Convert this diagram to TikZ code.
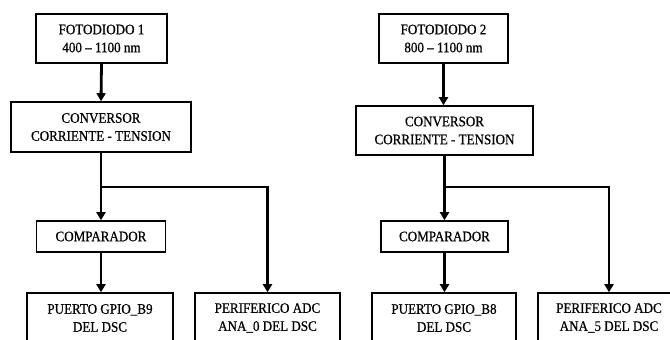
\documentclass[tikz,border=0pt]{standalone}
\usepackage{fontspec}
\setmainfont{Liberation Serif}[FakeStretch=0.9,FakeBold=0.6]
\usetikzlibrary{arrows.meta,calc}
\begin{document}
\begin{tikzpicture}[x=1pt,y=-1pt,
  blk/.style={draw,line width=1.6pt,inner sep=0pt,align=center,
    font=\fontsize{14.5}{18}\selectfont},
  arr/.style={line width=2.8pt,-{Triangle[length=8pt,width=9pt]}},
  thinl/.style={line width=1.1pt}]
\useasboundingbox (0,0) rectangle (670,340);
% left column
\node[blk,minimum width=131pt,minimum height=49pt] (F1) at (101.5,38.5) {FOTODIODO 1\\400 – 1100 nm};
\node[blk,minimum width=180pt,minimum height=50pt] (C1) at (101,127) {CONVERSOR\\CORRIENTE - TENSION};
\node[blk,minimum width=129pt,minimum height=31pt] (K1) at (101,236.5) {COMPARADOR};
\node[blk,minimum width=146pt,minimum height=50pt] (P1) at (100,318) {PUERTO GPIO\_B9\\DEL DSC};
\node[blk,minimum width=145pt,minimum height=50pt] (A1) at (267.5,318) {PERIFERICO ADC\\ANA\_0 DEL DSC};
\coordinate (J1) at (101,187);
\draw[arr] (F1.south) -- (C1.north);
\draw[arr] (C1.south) -- (K1.north);
\draw[thinl] (J1) -- (J1 -| A1.north);
\draw[arr] ($(J1 -| A1.north)+(0,-1)$) -- (A1.north);
\draw[arr] (K1.south) -- (K1.south |- P1.north);
% right column
\node[blk,minimum width=129pt,minimum height=49pt] (F2) at (443.5,38.5) {FOTODIODO 2\\800 – 1100 nm};
\node[blk,minimum width=177pt,minimum height=49pt] (C2) at (444.5,130.5) {CONVERSOR\\CORRIENTE - TENSION};
\node[blk,minimum width=127pt,minimum height=31pt] (K2) at (444.5,236.5) {COMPARADOR};
\node[blk,minimum width=144pt,minimum height=50pt] (P2) at (444,318) {PUERTO GPIO\_B8\\DEL DSC};
\node[blk,minimum width=142pt,minimum height=50pt] (A2) at (609,318) {PERIFERICO ADC\\ANA\_5 DEL DSC};
\coordinate (J2) at (444.5,187);
\draw[arr] (F2.south) -- (F2.south |- C2.north);
\draw[arr] (C2.south) -- (C2.south |- K2.north);
\draw[thinl] (J2) -- (J2 -| A2.north);
\draw[arr] ($(J2 -| A2.north)+(0,-1)$) -- (A2.north);
\draw[arr] (K2.south) -- (K2.south |- P2.north);
\end{tikzpicture}
\end{document}
